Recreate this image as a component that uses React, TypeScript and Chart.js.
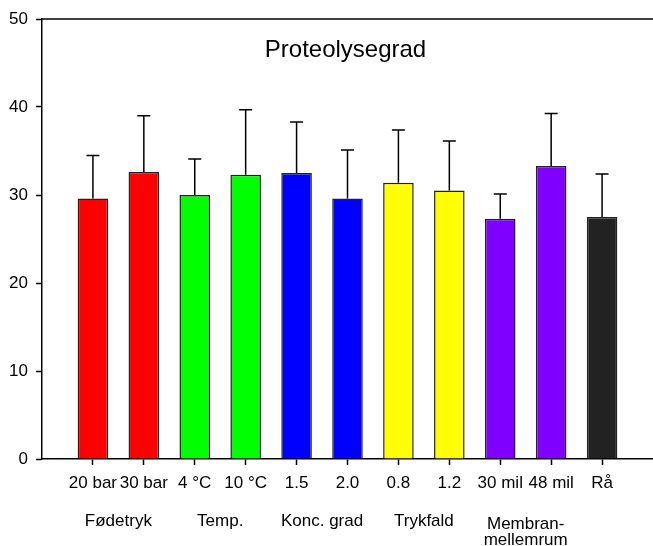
import React, { useEffect, useRef } from "react";
import { Chart, registerables } from "chart.js";

Chart.register(...registerables);

const categories = ["20 bar", "30 bar", "4 °C", "10 °C", "1.5", "2.0", "0.8", "1.2", "30 mil", "48 mil", "Rå"];
const means = [29.6, 32.6, 30.0, 32.3, 32.5, 29.6, 31.4, 30.5, 27.3, 33.3, 27.5];
const errors = [4.9, 6.4, 4.1, 7.4, 5.8, 5.5, 6.0, 5.65, 2.8, 5.95, 4.9];
const barColors = ["#ff0000", "#ff0000", "#00ff00", "#00ff00", "#0000ff", "#0000ff", "#ffff00", "#ffff00", "#8000ff", "#8000ff", "#222222"];
const groups: string[][] = [["Fødetryk"], ["Temp."], ["Konc. grad"], ["Trykfald"], ["Membran-", "mellemrum"]];
const yTicks = [0, 10, 20, 30, 40, 50];
const title = "Proteolysegrad";

const FONT = "'Liberation Sans', Arial, sans-serif";

export default function App() {
  const ref = useRef<HTMLCanvasElement | null>(null);

  useEffect(() => {
    const canvas = ref.current;
    if (!canvas) return;

    const errorBars = {
      id: "errorBars",
      afterDatasetsDraw(chart: any) {
        const ctx = chart.ctx;
        const meta = chart.getDatasetMeta(0);
        const ys = chart.scales.y;
        ctx.save();
        ctx.strokeStyle = "#000";
        ctx.lineWidth = 1.5;
        meta.data.forEach((bar: any, i: number) => {
          const top = ys.getPixelForValue(means[i] + errors[i]);
          ctx.beginPath();
          ctx.moveTo(bar.x, bar.y);
          ctx.lineTo(bar.x, top);
          ctx.moveTo(bar.x - 6.5, top);
          ctx.lineTo(bar.x + 6.5, top);
          ctx.stroke();
        });
        ctx.restore();
      },
    };

    const decorations = {
      id: "decorations",
      afterDraw(chart: any) {
        const ctx = chart.ctx;
        const area = chart.chartArea;
        const xs = chart.scales.x;
        ctx.save();
        ctx.strokeStyle = "#000";
        ctx.lineWidth = 1.5;
        ctx.beginPath();
        ctx.moveTo(area.left, area.top);
        ctx.lineTo(area.right, area.top);
        ctx.stroke();
        ctx.fillStyle = "#000";
        ctx.font = `24px ${FONT}`;
        ctx.textAlign = "center";
        ctx.textBaseline = "alphabetic";
        ctx.fillText(title, xs.getPixelForValue(6) - 2, area.top + 38);
        ctx.font = `17px ${FONT}`;
        groups.forEach((lines, g) => {
          const x = xs.getPixelForValue(2 * g + 1.5);
          const startY = lines.length > 1 ? area.bottom + 70 : area.bottom + 67;
          lines.forEach((line, li) => {
            ctx.fillText(line, x, startY + li * 16);
          });
        });
        ctx.restore();
      },
    };

    const chart = new Chart(canvas, {
      type: "bar",
      data: {
        datasets: [
          {
            data: means.map((v, i) => ({ x: i + 1, y: v })),
            backgroundColor: barColors,
            borderColor: "#222222",
            borderWidth: 1.5,
            barPercentage: 0.6,
            categoryPercentage: 1,
          },
        ],
      },
      options: {
        responsive: false,
        animation: false,
        events: [],
        layout: { autoPadding: false, padding: { top: 19, left: 0, right: 0, bottom: 0 } },
        plugins: {
          legend: { display: false },
          title: { display: false },
          tooltip: { enabled: false },
        },
        scales: {
          x: {
            type: "linear",
            offset: false,
            min: 0,
            max: 12,
            afterFit: (s: any) => {
              s.height = 87;
              s.paddingLeft = 0;
              s.paddingRight = 0;
            },
            afterBuildTicks: (s: any) => {
              s.ticks = Array.from({ length: 13 }, (_, i) => ({ value: i }));
            },
            ticks: {
              autoSkip: false,
              maxRotation: 0,
              padding: 8,
              color: "#000",
              font: { family: FONT, size: 17 },
              callback: (v: any) => {
                const idx = Number(v) - 1;
                return idx >= 0 && idx < categories.length ? categories[idx] : "";
              },
            },
            grid: {
              offset: false,
              drawOnChartArea: false,
              tickLength: 6,
              tickWidth: 1.5,
              tickColor: (c: any) => {
                const v = c.tick ? c.tick.value : 0;
                return v >= 1 && v <= categories.length ? "#000" : "rgba(0,0,0,0)";
              },
            },
            border: { color: "#000", width: 1.5 },
          },
          y: {
            min: 0,
            max: 50,
            afterFit: (s: any) => {
              s.width = 42;
              s.paddingTop = 0;
              s.paddingBottom = 0;
            },
            afterBuildTicks: (s: any) => {
              s.ticks = yTicks.map((v) => ({ value: v }));
            },
            ticks: {
              padding: 8,
              color: "#000",
              font: { family: FONT, size: 17 },
            },
            grid: {
              drawOnChartArea: false,
              tickLength: 6,
              tickWidth: 1.5,
              tickColor: "#000",
            },
            border: { color: "#000", width: 1.5 },
          },
        },
      },
      plugins: [errorBars, decorations],
    } as any);

    return () => chart.destroy();
  }, []);

  return (
    <div style={{ position: "absolute", left: 0, top: 0, width: 653, height: 546, background: "#fff" }}>
      <canvas ref={ref} width={653} height={546} style={{ display: "block" }} />
    </div>
  );
}
